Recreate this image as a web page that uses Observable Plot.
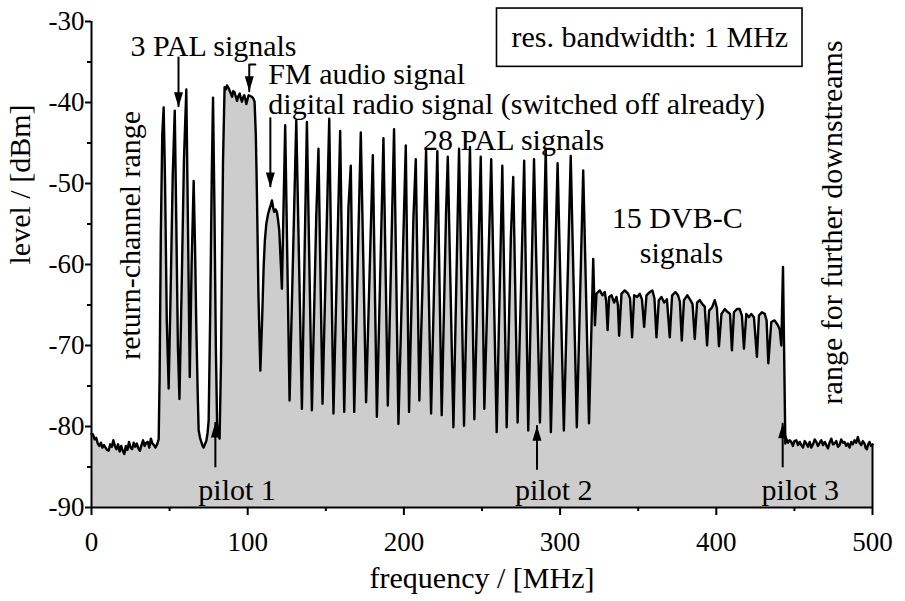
<!DOCTYPE html>
<html><head><meta charset="utf-8">
<script src="https://cdn.jsdelivr.net/npm/d3@7"></script>
<script src="https://cdn.jsdelivr.net/npm/@observablehq/plot@0.6"></script>
<style>body{margin:0;background:#fff} svg{display:block}</style>
</head><body><div id="chart"></div>
<script>
// spectrum readings [frequency MHz, level dBm]
const returnBand = [[0,-80.9],[1,-81.0],[2,-81.6],[3,-81.4],[4,-82.1],[5,-82.4],[6,-82.0],[7,-82.6],[8,-82.3],[9,-82.6],[10,-82.9],[11,-83.0],[12,-82.2],[13,-82.5],[14,-81.7],[15,-82.4],[16,-82.8],[17,-82.2],[18,-83.1],[19,-82.4],[20,-83.0],[21,-83.4],[22,-82.4],[23,-82.9],[24,-81.9],[25,-82.6],[26,-82.8],[27,-82.0],[28,-82.5],[29,-82.1],[30,-82.7],[31,-83.0],[32,-82.3],[33,-81.7],[34,-82.4],[35,-82.0],[36,-81.9],[37,-82.6],[38,-81.5],[39,-82.1],[40,-82.3],[41,-82.6],[42,-82.2],[43,-81.6]];
const lowBand = [[43.6,-74],[44.4,-56],[45.3,-44],[46.2,-40.6],[47.1,-50],[48.2,-67],[49.4,-75.3],[50.6,-64],[52,-49],[53.3,-41.0],[54.3,-55],[55.3,-70],[56.3,-76.6],[57.6,-64],[59.2,-47],[60.7,-38.4],[61.8,-56],[62.9,-73.9],[64.1,-60],[65.4,-49.7],[66.3,-58],[67.1,-67.7],[68.0,-76],[68.6,-80.5],[69.5,-81.4],[70.3,-81.9],[71.1,-82.4],[71.8,-82.6],[72.6,-82.2],[73.5,-81.8],[74.3,-80.8],[75.0,-79.3],[76.0,-66],[77.0,-49],[77.8,-39.4],[78.7,-53],[79.6,-70],[80.4,-79.6],[81.2,-80.9],[82.0,-81.5],[82.9,-72],[83.6,-58],[84.2,-47.2],[85.2,-38.1],[86.0,-38.4],[86.7,-37.9],[87.7,-38.2],[88.8,-38.7],[90.0,-39.3],[90.7,-38.6],[91.5,-38.7],[92.4,-39.3],[93.2,-39.8],[94.0,-39.2],[94.9,-38.9],[95.6,-39.5],[96.3,-39.9],[97.0,-39.4],[97.8,-39.1],[98.5,-39.6],[99.1,-40.2],[99.9,-39.6],[100.6,-39.1],[101.6,-39.2],[102.7,-39.3],[103.6,-39.5],[104.4,-39.9],[105.2,-44],[105.9,-51.2],[106.9,-64],[108.1,-73.1],[109.2,-67],[110.2,-60.3],[111.0,-57],[111.9,-55.0],[113.0,-53.8],[114.0,-53.1],[114.8,-52.6],[115.5,-52.1],[116.3,-53.0],[117.0,-53.5],[117.8,-53.2],[118.7,-53.5],[119.5,-54.6],[120.2,-55.8],[121.1,-59.5],[121.9,-63.0]];
const palBand = [[124.0,-42.8],[126.8,-76.8],[131.1,-42.2],[134.7,-77.8],[137.9,-42.4],[141.1,-78.0],[143.9,-54],[145.3,-45.7],[147.9,-77.2],[152.2,-42.0],[154.9,-78.4],[159.2,-43.5],[161.8,-78.2],[164.5,-52.9],[166.0,-47.8],[168.2,-78.2],[172.4,-43.7],[175.8,-77.0],[180.1,-46.5],[182.7,-78.8],[186.9,-44.4],[189.7,-77.4],[193.7,-43.3],[196.5,-79.7],[201.2,-45.3],[203.3,-78.2],[206.1,-54.2],[207.6,-47.0],[209.9,-76.8],[212.9,-55.4],[214.2,-45.9],[217.4,-78.4],[221.4,-46.0],[224.2,-78.6],[227.0,-53.5],[228.1,-46.7],[231.7,-80.1],[235.3,-45.7],[238.5,-79.9],[242.3,-45.5],[245.1,-79.1],[249.2,-46.7],[251.5,-77.8],[255.9,-47.0],[259.4,-80.7],[263.0,-47.8],[265.8,-80.1],[268.5,-56.4],[270.0,-49.2],[272.8,-79.5],[277.0,-47.2],[279.6,-80.5],[283.3,-47.0],[287.1,-79.5],[290.8,-45.8],[294.1,-80.7],[298.4,-47.5],[302.4,-80.5],[306.8,-46.6],[310.7,-80.1],[314.8,-48.4],[318.5,-79.6]];
const dvbcBand = [[321.2,-59.3],[322.3,-67.5],[323.3,-63.6],[325.4,-63.2],[327.1,-63.8],[328.6,-63.4],[329.5,-64.5],[330.4,-68.1],[331.4,-64.0],[332.9,-63.8],[334.6,-64.7],[336.1,-64.0],[337.0,-65],[337.8,-68.8],[339.3,-63.6],[341.4,-63.2],[343.5,-63.6],[344.8,-64.2],[346.1,-69.0],[347.4,-63.8],[349.3,-64.0],[351.0,-63.6],[352.4,-64.3],[353.8,-67.7],[355.3,-63.8],[357.4,-63.4],[359.1,-63.2],[360.4,-64.2],[361.7,-69.0],[363.2,-64.4],[364.9,-64.0],[366.6,-64.7],[368.4,-64.3],[370.2,-69.0],[371.7,-63.8],[373.8,-63.4],[375.5,-63.8],[376.7,-64.6],[377.9,-69.4],[379.3,-64.4],[381.5,-63.8],[383.4,-64.4],[384.8,-64.9],[386.2,-69.2],[387.7,-64.7],[389.4,-64.4],[391.1,-64.9],[392.6,-65.2],[394.1,-70.0],[395.4,-65.7],[397.3,-65.3],[399.0,-64.4],[400.4,-65.4],[401.7,-70.1],[403.3,-66.1],[405.4,-65.5],[407.5,-65.9],[408.8,-66.1],[410.0,-70.6],[411.3,-65.9],[413.2,-65.5],[415.0,-65.5],[416.4,-66.3],[417.7,-70.4],[419.2,-66.1],[420.9,-66.5],[422.4,-66.1],[424.1,-66.5],[426.0,-71.4],[427.3,-66.3],[429.2,-65.9],[431.0,-66.1],[432.2,-66.9],[433.3,-72.2],[435.2,-67.1],[437.3,-66.9],[439.4,-67.5],[440.6,-68],[441.6,-70.0],[442.7,-60.3],[443.5,-72],[444.2,-82.1]];
const upperBand = [[444.8,-81.5],[446,-82.0],[447,-81.7],[448,-81.9],[449,-82.4],[450,-81.8],[451.2,-81.7],[452.3,-82.3],[453.4,-81.9],[454.4,-82.3],[455.5,-82.6],[456.6,-81.8],[457.6,-82.1],[458.7,-82.5],[459.8,-81.9],[460.8,-82.6],[461.9,-82.2],[463,-81.6],[464,-81.9],[465.1,-82.4],[466.2,-82.0],[467.2,-81.7],[468.3,-82.3],[469.4,-81.9],[470.4,-82.3],[471.5,-82.7],[472.5,-82.0],[473.6,-81.5],[474.7,-82.2],[475.7,-82.1],[476.8,-81.8],[477.9,-82.5],[478.9,-82.3],[480,-81.6],[481.1,-82.0],[482.1,-81.9],[483.2,-82.4],[484.2,-82.1],[485.3,-82.6],[486.4,-81.9],[487.4,-82.2],[488.5,-81.7],[489.6,-82.0],[490.6,-81.3],[491.7,-82.0],[492.8,-82.3],[493.8,-81.8],[494.9,-82.1],[495.7,-82.7],[496.4,-82.8],[497.2,-82.2],[498.1,-81.9],[499.0,-82.4],[500,-82.2]];

const xTicks = [0, 100, 200, 300, 400, 500];
const xMinor = [50, 150, 250, 350, 450];
const yTicks = [-90, -80, -70, -60, -50, -40, -30];
const yMinor = [-85, -75, -65, -55, -45, -35];

// annotations in data coordinates
const notes = [
  {text: "3 PAL signals", f: 24.9, l: -33.1},
  {text: "FM audio signal", f: 113.2, l: -36.5},
  {text: "digital radio signal (switched off already)", f: 113.2, l: -40.2},
  {text: "28 PAL signals", f: 212.3, l: -44.7},
  {text: "15 DVB-C", f: 333.1, l: -54.3},
  {text: "signals", f: 351, l: -58.6},
  {text: "pilot 1", f: 68.4, l: -87.9},
  {text: "pilot 2", f: 271.1, l: -87.9},
  {text: "pilot 3", f: 429, l: -87.9}
];
const sideNotes = [
  {text: "return-channel range", f: 24.9, l: -56.4},
  {text: "range for further downstreams", f: 474.4, l: -54.8}
];
const infoBox = [{text: "res. bandwidth: 1 MHz", f1: 259.6, f2: 455.2, l1: -28.4, l2: -35.6}];
const arrowsDown = [
  {f: 55.7, from: -34.4, to: -40.6},
  {f: 114.5, from: -41.9, to: -50.5}
];
const arrowsUp = [
  {f: 79.3, from: -85.1, to: -79.5},
  {f: 285.2, from: -85.4, to: -79.9},
  {f: 442.5, from: -85.1, to: -79.6}
];
const fmArrow = [{f: 104.9, l: -35.3}, {f: 101, l: -35.3}, {f: 101, l: -38.6}];

const spectrum = [...returnBand, ...lowBand, ...palBand, ...dvbcBand, ...upperBand].map(([f, l]) => ({f, l}));
const last = spectrum[spectrum.length - 1];

const headDown = {draw(ctx) { ctx.moveTo(0, 0); ctx.lineTo(-4.5, -15); ctx.lineTo(4.5, -15); ctx.closePath(); }};
const headUp = {draw(ctx) { ctx.moveTo(0, 0); ctx.lineTo(-4.5, 15); ctx.lineTo(4.5, 15); ctx.closePath(); }};

const serif = "'Liberation Serif', 'Times New Roman', Times, serif";

const chart = Plot.plot({
  width: 905,
  height: 601,
  marginLeft: 91,
  marginRight: 33,
  marginTop: 21,
  marginBottom: 94,
  x: {domain: [0, 500]},
  y: {domain: [-90, -30]},
  style: {fontFamily: serif, fontSize: "30px", color: "black", background: "white", overflow: "visible"},
  marks: [
    Plot.areaY(spectrum, {x: "f", y1: -90, y2: "l", fill: "#cdcdcd"}),
    Plot.ruleX([last], {x: "f", y1: -90, y2: "l", stroke: "black", strokeWidth: 2}),
    Plot.line(spectrum, {x: "f", y: "l", stroke: "black", strokeWidth: 2.4, strokeLinejoin: "round"}),
    Plot.ruleX([0], {y1: -90, y2: -30, stroke: "black", strokeWidth: 2}),
    Plot.ruleY([-90], {x1: 0, x2: 500, stroke: "black", strokeWidth: 2}),
    Plot.axisX(xTicks, {tickSize: 8, tickPadding: 16, strokeWidth: 2, fontSize: 27, tickFormat: d => String(d), label: null}),
    Plot.axisX(xMinor, {tickSize: 4, strokeWidth: 2, text: null, label: null}),
    Plot.axisY(yTicks, {tickSize: 6, tickPadding: 1, strokeWidth: 2, fontSize: 27, tickFormat: d => String(d), label: null}),
    Plot.axisY(yMinor, {tickSize: 4, strokeWidth: 2, text: null, label: null}),
    Plot.text(["frequency / [MHz]"], {frameAnchor: "bottom", dy: 80}),
    Plot.text(["level / [dBm]"], {frameAnchor: "left", dx: -71, rotate: -90}),
    Plot.rect(infoBox, {x1: "f1", x2: "f2", y1: "l1", y2: "l2", fill: "white", stroke: "black", strokeWidth: 1.6}),
    Plot.text(infoBox, {x: d => (d.f1 + d.f2) / 2, y: d => (d.l1 + d.l2) / 2, text: "text"}),
    Plot.text(notes, {x: "f", y: "l", text: "text", textAnchor: "start"}),
    Plot.text(sideNotes, {x: "f", y: "l", text: "text", rotate: -90}),
    Plot.ruleX(arrowsDown, {x: "f", y1: "from", y2: "to", stroke: "black", strokeWidth: 2}),
    Plot.ruleX(arrowsUp, {x: "f", y1: "from", y2: "to", stroke: "black", strokeWidth: 2}),
    Plot.line(fmArrow, {x: "f", y: "l", stroke: "black", strokeWidth: 2}),
    Plot.dot(arrowsDown, {x: "f", y: "to", symbol: headDown, fill: "black", stroke: "none"}),
    Plot.dot([fmArrow[2]], {x: "f", y: "l", symbol: headDown, fill: "black", stroke: "none"}),
    Plot.dot(arrowsUp, {x: "f", y: "to", symbol: headUp, fill: "black", stroke: "none"})
  ]
});
document.getElementById("chart").appendChild(chart);
</script>
</body></html>
